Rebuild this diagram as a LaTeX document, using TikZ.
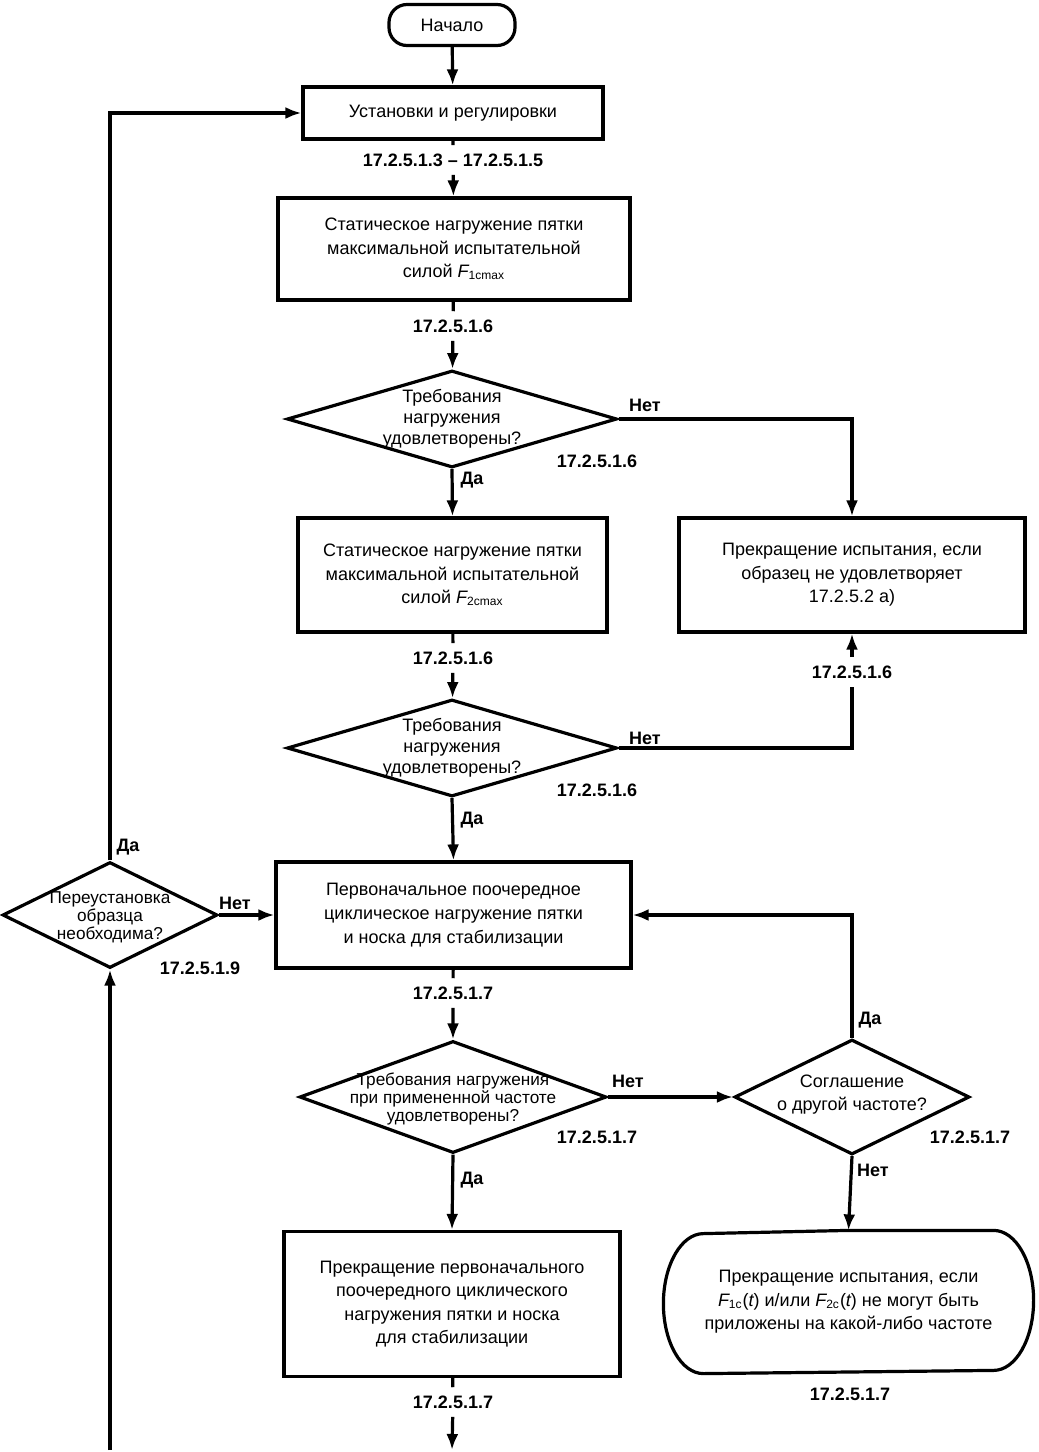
\documentclass[tikz,border=0pt]{standalone}
\usepackage{fontspec}
\setmainfont{Liberation Sans}
\usetikzlibrary{shapes.geometric,shapes.misc,arrows.meta}
\newcommand\boxfnt{\fontsize{9}{11.8}\selectfont}
\newcommand\diafnt{\fontsize{9}{10.5}\selectfont}
\newcommand\smdiafnt{\fontsize{8.6}{9}\selectfont}
\newcommand\lblfnt{\fontsize{9}{10}\selectfont\bfseries}
\newcommand\Fi{{\itshape F}}
\newcommand\ti{{\itshape t}}
\begin{document}
\begin{tikzpicture}[x=0.5pt,y=-0.5pt,
  box/.style={draw, line width=1.6pt, align=center, font=\boxfnt, inner sep=0pt},
  term/.style={draw, line width=1.6pt, align=center, font=\boxfnt, inner sep=0pt},
  dia/.style={draw, diamond, line width=1.6pt, inner sep=0pt},
  dtext/.style={align=center, font=\diafnt, inner sep=0pt},
  lbl/.style={font=\lblfnt, inner xsep=1pt, inner ysep=4pt},
  yn/.style={font=\lblfnt, inner sep=1pt},
  ln/.style={line width=1.6pt},
  arr/.style={line width=1.6pt, -{Latex[length=8pt,width=6pt]}}]
\useasboundingbox (0,0) rectangle (1039,1452);

% nodes
\node[term, rounded corners=9pt, minimum width=63pt, minimum height=20.5pt] (start) at (452,25) {Начало};
\node[box, minimum width=150pt, minimum height=26pt] (b1) at (453,113) {Установки и регулировки};
\node[box, minimum width=176pt, minimum height=51pt] (b2) at (454,249) {Статическое нагружение пятки\\максимальной испытательной\\силой \Fi\textsubscript{1cmax}};
\node[dia, minimum width=165pt, minimum height=48.5pt] (d1) at (452,419) {};
\node[dtext] (d1t) at (452,419) {Требования\\нагружения\\удовлетворены?};
\node[box, minimum width=154.5pt, minimum height=57pt] (b4) at (452.5,575) {Статическое нагружение пятки\\максимальной испытательной\\силой \Fi\textsubscript{2cmax}};
\node[box, minimum width=173pt, minimum height=57pt] (b3) at (852,575) {Прекращение испытания, если\\образец не удовлетворяет\\17.2.5.2 а)};
\node[dia, minimum width=165pt, minimum height=48.5pt] (d2) at (452,748) {};
\node[dtext] (d2t) at (452,748) {Требования\\нагружения\\удовлетворены?};
\node[box, minimum width=177.5pt, minimum height=53pt] (b5) at (453.5,915) {Первоначальное поочередное\\циклическое нагружение пятки\\и носка для стабилизации};
\node[dia, minimum width=153.5pt, minimum height=56pt] (d3) at (453,1097) {};
\node[dtext, font=\smdiafnt] (d3t) at (453,1099) {Требования нагружения\\при примененной частоте\\удовлетворены?};
\node[dia, minimum width=117.5pt, minimum height=57.5pt] (d4) at (852,1097) {};
\node[dtext, font=\fontsize{9}{11.5}\selectfont] (d4t) at (852,1095) {Соглашение\\о другой частоте?};
\node[dia, minimum width=107.5pt, minimum height=53pt] (d5) at (110,915) {};
\node[dtext, font=\smdiafnt] (d5t) at (110,917) {Переустановка\\образца\\необходима?};
\node[box, minimum width=168pt, minimum height=72.5pt] (b6) at (452,1304) {Прекращение первоначального\\поочередного циклического\\нагружения пятки и носка\\для стабилизации};
\node[term, draw=none, minimum width=183.5pt, minimum height=70pt] (t2) at (848.5,1302) {Прекращение испытания, если\\\Fi\textsubscript{1c}(\ti) и/или \Fi\textsubscript{2c}(\ti) не могут быть\\приложены на какой-либо частоте};
\draw[ln, line join=round] (t2.north) -- ([xshift=-20pt]t2.north east)
  arc[start angle=90, end angle=-90, x radius=20pt, y radius=35pt]
  -- ([xshift=20pt]t2.south west)
  arc[start angle=270, end angle=90, x radius=20pt, y radius=35pt] -- cycle;

% labels on lines
\node[lbl] (l1) at (453,160) {17.2.5.1.3 – 17.2.5.1.5};
\node[lbl] (l2) at (453,326) {17.2.5.1.6};
\node[lbl] (l3) at (453,658) {17.2.5.1.6};
\node[lbl] (l4) at (852,672) {17.2.5.1.6};
\node[lbl] (l5) at (453,993) {17.2.5.1.7};
\node[lbl] (l6) at (453,1402) {17.2.5.1.7};

% free labels
\node[yn] (r1) at (597,461) {17.2.5.1.6};
\node[yn] (r2) at (597,790) {17.2.5.1.6};
\node[yn] (r3) at (597,1137) {17.2.5.1.7};
\node[yn] (r4) at (970,1137) {17.2.5.1.7};
\node[yn] (r5) at (850,1394) {17.2.5.1.7};
\node[yn] (r6) at (200,968) {17.2.5.1.9};

\node[yn] (n1) at (645,405) {Нет};
\node[yn] (y1) at (472,480) {Да};
\node[yn] (n2) at (645,738) {Нет};
\node[yn] (y2) at (472,820) {Да};
\node[yn] (n3) at (628,1081) {Нет};
\node[yn] (y3) at (472,1180) {Да};
\node[yn] (y4) at (870,1020) {Да};
\node[yn] (n4) at (873,1170) {Нет};
\node[yn] (y5) at (128,847) {Да};
\node[yn] (n5) at (235,903) {Нет};

\coordinate (bot) at (452,1450);
\coordinate (botl) at (110,1450);

% connectors
\draw[arr] (start) -- (b1);
\draw[arr] (b1) -- (l1) -- (b2);
\draw[arr] (b2) -- (l2) -- (d1);
\draw[arr] (d1.east) -| (b3.north);
\draw[arr] (d1.south) -- (b4.north);
\draw[arr] (b4) -- (l3) -- (d2);
\draw[ln] (d2.east) -| (l4);
\draw[arr] (l4) -- (b3);
\draw[arr] (d2.south) -- (b5.north);
\draw[arr] (b5) -- (l5) -- (d3);
\draw[arr] (d3.east) -- (d4.west);
\draw[arr] (d4.north) |- (b5.east);
\draw[arr] (d4.south) -- (t2.north);
\draw[arr] (d3.south) -- (b6.north);
\draw[arr] (b6) -- (l6) -- (bot);
\draw[arr] (botl) -- (d5.south);
\draw[arr] (d5.north) |- (b1.west);
\draw[arr] (d5.east) -- (b5.west);
\end{tikzpicture}
\end{document}
